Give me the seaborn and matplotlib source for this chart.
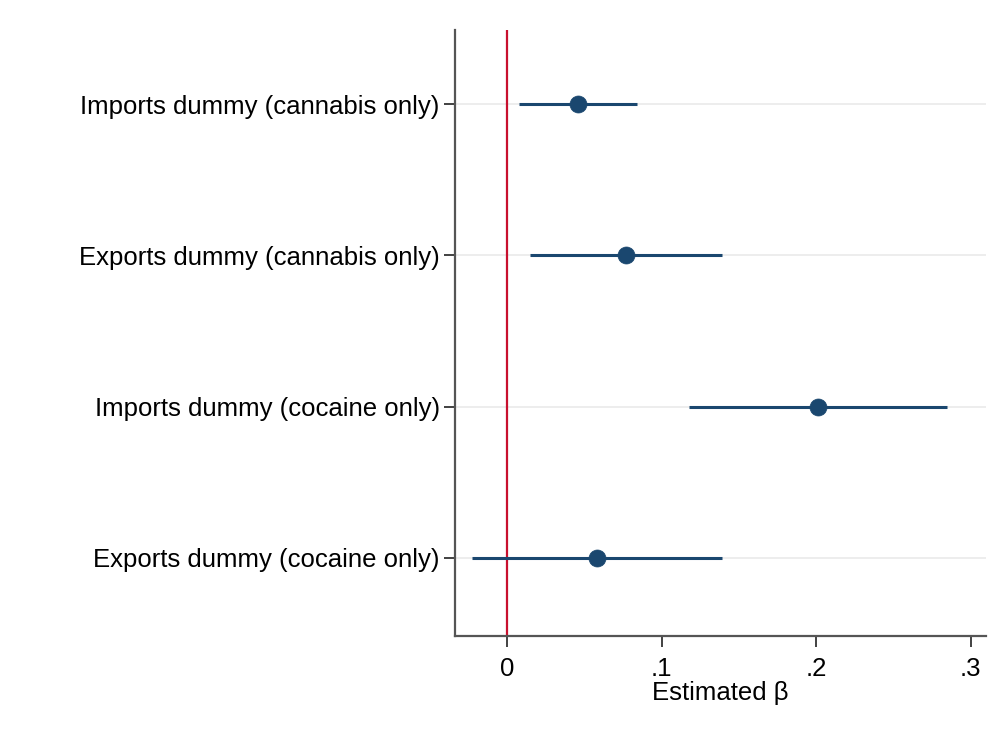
import matplotlib
matplotlib.use("Agg")
import matplotlib.pyplot as plt
import seaborn as sns
import pandas as pd

# coefficient estimates with 95% CI
labels = ["Imports dummy (cannabis only)", "Exports dummy (cannabis only)",
          "Imports dummy (cocaine only)", "Exports dummy (cocaine only)"]
beta = [0.046, 0.077, 0.2015, 0.058]
ci_low = [0.0075, 0.015, 0.118, -0.0226]
ci_high = [0.084, 0.139, 0.285, 0.139]
xticks = [0, 0.1, 0.2, 0.3]
xticklabels = ["0", ".1", ".2", ".3"]

df = pd.DataFrame({"label": labels, "beta": beta, "lo": ci_low, "hi": ci_high})
df["pos"] = range(len(df))

sns.set_style("white")
plt.rcParams["font.family"] = ["Liberation Sans", "DejaVu Sans"]
plt.rcParams["text.color"] = "black"

navy = "#1a476f"
fig = plt.figure(figsize=(10, 7.3), dpi=100)
ax = fig.add_axes([0.455, 0.129, 0.531, 0.83])

# light horizontal grid at each coefficient
for p in df["pos"]:
    ax.axhline(p, color="#eaeaea", lw=1.2, zorder=0)

ax.axvline(0, color="#c8102e", lw=1.6, zorder=1)
ax.hlines(df["pos"], df["lo"], df["hi"], color=navy, lw=2.2, zorder=2)
sns.scatterplot(data=df, x="beta", y="pos", color=navy, s=150,
                edgecolor=navy, linewidth=0.5, zorder=3, ax=ax)

fs = 18.5
ax.set_ylim(3.515, -0.49)
ax.set_xlim(-0.0337, 0.310)
ax.set_yticks(df["pos"])
ax.set_yticklabels(labels, fontsize=fs, color="black")
ax.set_xticks(xticks)
ax.set_xticklabels(xticklabels, fontsize=fs, color="black")
ax.set_ylabel("")
ax.set_xlabel("Estimated β", fontsize=fs, color="black", labelpad=0)

for s in ["top", "right"]:
    ax.spines[s].set_visible(False)
for s in ["left", "bottom"]:
    ax.spines[s].set_color("#555555")
    ax.spines[s].set_linewidth(1.6)
ax.tick_params(axis="both", direction="out", length=8, width=1.3, color="#333333",
               left=True, bottom=True)
ax.tick_params(axis="x", pad=7)
ax.tick_params(axis="y", pad=3)

fig.savefig("out.png", dpi=100)
